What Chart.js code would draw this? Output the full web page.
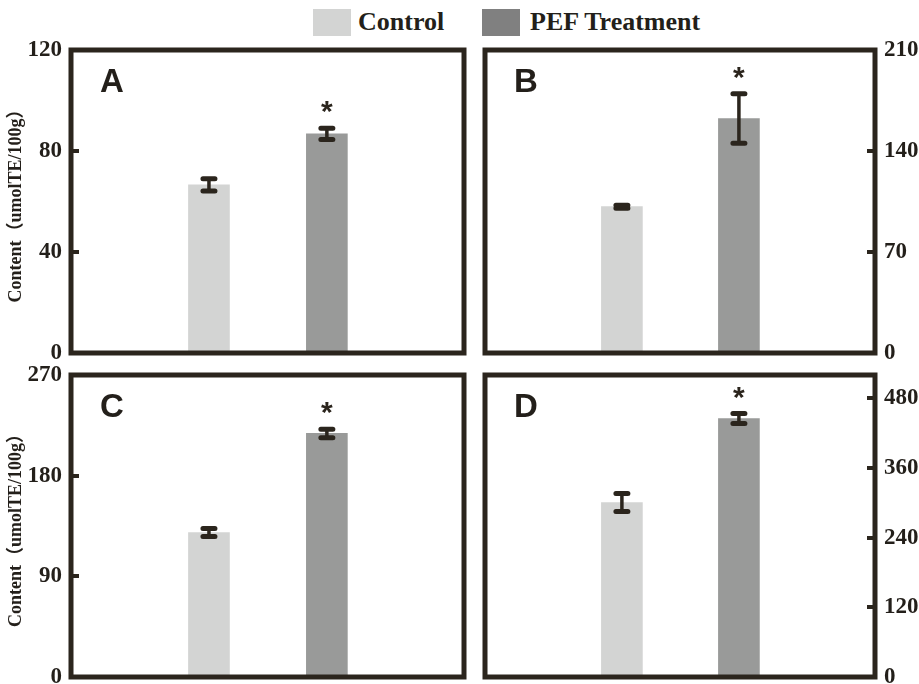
<!DOCTYPE html>
<html>
<head>
<meta charset="utf-8">
<title>Content by treatment</title>
<script src="https://cdn.jsdelivr.net/npm/chart.js@4.4.1/dist/chart.umd.min.js"></script>
<style>
  body { margin: 0; width: 919px; height: 684px; overflow: hidden; background: #fff; position: relative; }
  canvas { position: absolute; }
  .sw { position: absolute; top: 9px; width: 38px; height: 27px; }
  .lg { position: absolute; top: 5px; font: bold 26px "Liberation Serif", serif; color: #231f1a; line-height: 34px; }
</style>
</head>
<body>

<div class="sw" id="swControl" style="left:313px"></div>
<div class="lg" style="left:358px">Control</div>
<div class="sw" id="swPef" style="left:482px"></div>
<div class="lg" style="left:530px">PEF Treatment</div>

<canvas id="panelA" width="480" height="363" style="left:0;top:20px"></canvas>
<canvas id="panelB" width="449" height="363" style="left:470px;top:20px"></canvas>
<canvas id="panelC" width="480" height="362" style="left:0;top:345px"></canvas>
<canvas id="panelD" width="449" height="362" style="left:470px;top:345px"></canvas>

<script>
// values
const panels = ["A", "B", "C", "D"];
const seriesNames = ["Control", "PEF Treatment"];
const controlValues = [66.6, 101.4, 129.2, 300.4];
const controlErrors = [2.4, 1.0, 3.6, 15.5];
const pefValues = [86.8, 162.5, 217.8, 445.0];
const pefErrors = [2.2, 17.2, 3.8, 8.6];
const significant = [true, true, true, true];
const axisMax = [120, 210, 270, 520];
const axisStep = [40, 70, 90, 120];
const yTitle = "Content（umolTE/100g）";

const ink = "#2b251d";
const controlColor = "#d3d4d3";
const pefColor = "#999a99";
const pefLegendColor = "#808080";
const serif = "'Liberation Serif', 'Noto Sans CJK SC', serif";
const sans = "'Liberation Sans', Arial, sans-serif";

document.getElementById("swControl").style.background = controlColor;
document.getElementById("swPef").style.background = pefLegendColor;

// frame, inward ticks, error bars, asterisks, panel letter
const panelDecor = {
  id: "panelDecor",
  afterDatasetsDraw(chart) {
    const ctx = chart.ctx;
    const y = chart.scales.y;
    ctx.save();
    ctx.strokeStyle = ink;
    ctx.lineCap = "round";
    chart.data.datasets.forEach((ds, di) => {
      const meta = chart.getDatasetMeta(di);
      meta.data.forEach((bar, j) => {
        const v = ds.data[j].y;
        const e = ds.errors[j];
        const yt = y.getPixelForValue(v + e);
        const yb = y.getPixelForValue(v - e);
        ctx.lineWidth = 3.5;
        ctx.beginPath();
        ctx.moveTo(bar.x, yt);
        ctx.lineTo(bar.x, yb);
        ctx.stroke();
        ctx.lineWidth = 5;
        ctx.beginPath();
        ctx.moveTo(bar.x - 6, yt);
        ctx.lineTo(bar.x + 6, yt);
        ctx.moveTo(bar.x - 6, yb);
        ctx.lineTo(bar.x + 6, yb);
        ctx.stroke();
        if (ds.star && ds.star[j]) {
          ctx.fillStyle = ink;
          ctx.font = "bold 30px " + sans;
          ctx.textAlign = "center";
          ctx.textBaseline = "alphabetic";
          ctx.fillText("*", bar.x, yt - 7);
        }
      });
    });
    ctx.restore();
  },
  afterDraw(chart, args, opts) {
    const ctx = chart.ctx;
    const a = chart.chartArea;
    const y = chart.scales.y;
    ctx.save();
    ctx.strokeStyle = ink;
    ctx.lineWidth = 4;
    y.ticks.forEach(t => {
      if (t.value <= y.min || t.value >= y.max) return;
      const py = Math.round(y.getPixelForValue(t.value));
      ctx.beginPath();
      if (opts.side === "left") {
        ctx.moveTo(a.left, py);
        ctx.lineTo(a.left + 8, py);
      } else {
        ctx.moveTo(a.right - 8, py);
        ctx.lineTo(a.right, py);
      }
      ctx.stroke();
    });
    ctx.lineWidth = 5;
    ctx.lineJoin = "miter";
    ctx.strokeRect(a.left, a.top, a.right - a.left, a.bottom - a.top);
    ctx.fillStyle = "#231f1a";
    ctx.font = "bold 33px " + sans;
    ctx.textAlign = "left";
    ctx.textBaseline = "alphabetic";
    ctx.fillText(opts.letter, a.left + 29, a.top + 42);
    ctx.restore();
  }
};

function drawPanel(i) {
  const left = i % 2 === 0;
  new Chart(document.getElementById("panel" + panels[i]), {
    type: "bar",
    data: {
      datasets: [
        {
          label: seriesNames[0],
          data: [{ x: 0, y: controlValues[i] }],
          errors: [controlErrors[i]],
          backgroundColor: controlColor,
          barThickness: 41,
          grouped: false
        },
        {
          label: seriesNames[1],
          data: [{ x: 1, y: pefValues[i] }],
          errors: [pefErrors[i]],
          star: [significant[i]],
          backgroundColor: pefColor,
          barThickness: 41,
          grouped: false
        }
      ]
    },
    options: {
      responsive: false,
      animation: false,
      devicePixelRatio: 1,
      layout: {
        padding: left ? { left: 0, top: 30, right: 16, bottom: 30 }
                      : { left: 15, top: 30, right: 0, bottom: 30 }
      },
      scales: {
        x: { type: "linear", display: false, offset: false, min: -1.17, max: 2.163 },
        y: {
          position: left ? "left" : "right",
          min: 0,
          max: axisMax[i],
          grid: { display: false, drawTicks: false },
          border: { display: false },
          ticks: {
            stepSize: axisStep[i],
            includeBounds: false,
            padding: 9,
            color: "#231f1a",
            font: { family: serif, size: 23, weight: "bold" }
          },
          title: {
            display: left,
            text: yTitle,
            color: "#231f1a",
            padding: { top: 6, bottom: 0 },
            font: { family: serif, size: 18, weight: "bold" }
          },
          afterFit: s => { s.width = left ? 71 : 44; }
        }
      },
      plugins: {
        legend: { display: false },
        tooltip: { enabled: false },
        panelDecor: { letter: panels[i], side: left ? "left" : "right" }
      }
    },
    plugins: [panelDecor]
  });
}

panels.forEach((p, i) => drawPanel(i));
</script>
</body>
</html>
